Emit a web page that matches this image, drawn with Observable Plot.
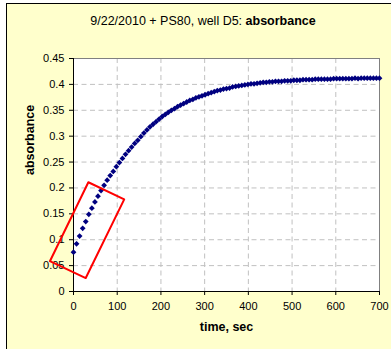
<!DOCTYPE html>
<html>
<head>
<meta charset="utf-8">
<script src="https://cdn.jsdelivr.net/npm/d3@7"></script>
<script src="https://cdn.jsdelivr.net/npm/@observablehq/plot@0.6"></script>
<style>
  html, body { margin: 0; padding: 0; background: #fff; }
  #wrap { position: relative; width: 391px; height: 349px; overflow: hidden; background: #fff; font-family: "Liberation Sans", Arial, sans-serif; }
  #bg { position: absolute; left: 6px; top: 3px; width: 420px; height: 380px; background: #FFFFCC; border: 1px solid #000; }
  #title { position: absolute; left: 0; top: 14px; width: 406px; text-align: center; font-size: 12.5px; line-height: 15px; color: #000; }
  #chart { position: absolute; left: 0; top: 0; }
</style>
</head>
<body>
<div id="wrap">
  <div id="bg"></div>
  <div id="title">9/22/2010 + PS80, well D5: <b>absorbance</b></div>
  <div id="chart"></div>
</div>
<script>
const times = [0,7,14,21,28,35,42,49,56,63,70,77,84,91,98,105,112,119,126,133,140,147,154,161,168,175,182,189,196,203,210,217,224,231,238,245,252,259,266,273,280,287,294,301,308,315,322,329,336,343,350,357,364,371,378,385,392,399,406,413,420,427,434,441,448,455,462,469,476,483,490,497,504,511,518,525,532,539,546,553,560,567,574,581,588,595,602,609,616,623,630,637,644,651,658,665,672,679,686,693,700];
const absorbance = [0.076,0.092,0.107,0.122,0.135,0.149,0.161,0.173,0.184,0.195,0.205,0.215,0.224,0.232,0.241,0.249,0.257,0.265,0.272,0.279,0.286,0.292,0.299,0.306,0.312,0.318,0.323,0.328,0.333,0.338,0.342,0.346,0.350,0.353,0.357,0.360,0.363,0.366,0.369,0.371,0.374,0.376,0.378,0.380,0.382,0.384,0.386,0.388,0.389,0.391,0.392,0.393,0.395,0.396,0.397,0.398,0.399,0.400,0.401,0.401,0.402,0.403,0.404,0.404,0.405,0.405,0.406,0.406,0.406,0.407,0.407,0.407,0.408,0.408,0.408,0.409,0.409,0.409,0.409,0.410,0.410,0.410,0.410,0.410,0.410,0.411,0.411,0.411,0.411,0.411,0.411,0.411,0.412,0.411,0.412,0.412,0.412,0.412,0.412,0.412,0.412];

const xTicks = [0,100,200,300,400,500,600,700];
const xTickLabels = ["0","100","200","300","400","500","600","700"];
const yTicks = [0,0.05,0.1,0.15,0.2,0.25,0.3,0.35,0.4,0.45];
const yTickLabels = ["0","0.05","0.1","0.15","0.2","0.25","0.3","0.35","0.4","0.45"];

// red highlight box corners (data units)
const boxX = [-54, 34, 116, 28, -54];
const boxY = [0.0585, 0.211, 0.178, 0.026, 0.0585];

const xLabel = "time, sec";
const yLabel = "absorbance";

const points = times.map((t, i) => ({t, a: absorbance[i]}));
const box = boxX.map((x, i) => ({x, y: boxY[i]}));

const chart = Plot.plot({
  width: 391,
  height: 349,
  marginLeft: 73,
  marginRight: 12,
  marginTop: 58,
  marginBottom: 58,
  style: {background: "transparent", fontFamily: "'Liberation Sans', Arial, sans-serif", fontSize: "11px", color: "#000"},
  x: {domain: [0, 700], axis: null},
  y: {domain: [0, 0.45], axis: null},
  marks: [
    Plot.frame({fill: "white", stroke: null}),
    Plot.ruleX(xTicks.filter(d => d > 0 && d < 700), {stroke: "#c0c0c0", strokeDasharray: "5,3.5"}),
    Plot.ruleY(yTicks.filter(d => d > 0 && d < 0.45), {stroke: "#c0c0c0", strokeDasharray: "5,3.5"}),
    Plot.frame({stroke: "#808080"}),
    Plot.ruleX([0], {stroke: "#000"}),
    Plot.ruleY([0], {stroke: "#000"}),
    Plot.axisX({ticks: xTicks, tickFormat: d => xTickLabels[xTicks.indexOf(d)], tickSize: 4, tickPadding: 7, label: null}),
    Plot.axisY({ticks: yTicks, tickFormat: d => yTickLabels[yTicks.indexOf(d)], tickSize: 4, tickPadding: 5, label: null}),
    Plot.dot(points, {x: "t", y: "a", symbol: "diamond2", r: 2.6, fill: "#000080", stroke: null}),
    Plot.line(box, {x: "x", y: "y", stroke: "#ff0000", strokeWidth: 2}),
    Plot.text([xLabel], {frameAnchor: "bottom", dy: 39, fontWeight: "bold", fontSize: 12.5}),
    Plot.text([yLabel], {frameAnchor: "left", dx: -44, rotate: -90, fontWeight: "bold", fontSize: 12.5})
  ]
});
document.getElementById("chart").appendChild(chart);
</script>
</body>
</html>
